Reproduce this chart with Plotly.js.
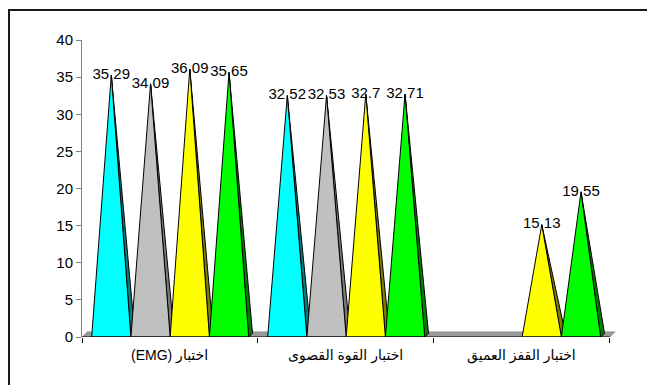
<!DOCTYPE html>
<html>
<head>
<meta charset="utf-8">
<script src="https://cdn.plot.ly/plotly-3.0.1.min.js"></script>
<style>
  html, body { margin: 0; padding: 0; background: #fff; overflow: hidden; }
  #chart { position: absolute; left: 0; top: 0; width: 647px; height: 385px; }
  #frame { position: absolute; left: 8px; top: 9px; width: 700px; height: 500px; border: 2px solid #1a1a1a; pointer-events: none; }
</style>
</head>
<body>
<div id="chart"></div>
<div id="frame"></div>
<script>
// ---- data ----
const categories = ['\u202Bاختبار (EMG)\u202C', 'اختبار القوة القصوى', 'اختبار القفز العميق'];
const seriesCyan   = [35.29, 32.52, null];
const seriesGray   = [34.09, 32.53, null];
const seriesYellow = [36.09, 32.7, 15.13];
const seriesGreen  = [35.65, 32.71, 19.55];
const labelsCyan   = ['35.29', '32.52', ''];
const labelsGray   = ['34.09', '32.53', ''];
const labelsYellow = ['36.09', '32.7', '15.13'];
const labelsGreen  = ['35.65', '32.71', '19.55'];
const yTicks = [0, 5, 10, 15, 20, 25, 30, 35, 40];

// ---- styling ----
const seriesList = [seriesCyan, seriesGray, seriesYellow, seriesGreen];
const labelList = [labelsCyan, labelsGray, labelsYellow, labelsGreen];
const frontColors = ['#00FFFF', '#C0C0C0', '#FFFF00', '#00FF00'];
const sideColors  = ['#008080', '#7a7a7a', '#808000', '#008000'];
const gapLeft = 0.055, slot = 0.223;   // fraction of a category
const depthX = 0.022, depthY = 0.5;    // 3D side face depth
const floorDX = 0.03, floorDY = 0.7;
const FONT = 'Arial, "Liberation Sans", "DejaVu Sans", sans-serif';

const traces = [];
const n = categories.length;

// floor
traces.push({
  x: [0, n, n + floorDX, floorDX, 0], y: [0, 0, floorDY, floorDY, 0],
  mode: 'lines', fill: 'toself', fillcolor: '#999999',
  line: { color: '#808080', width: 0.5 }, hoverinfo: 'skip', showlegend: false
});

const lx = [], ly = [], lt = [];
for (let i = 0; i < n; i++) {
  seriesList.forEach((s, j) => {
    const v = s[i];
    if (v === null || v === undefined) return;
    const left = i + gapLeft + j * slot;
    const right = left + slot;
    const mid = (left + right) / 2;
    // side face
    traces.push({
      x: [mid, right, right + depthX, mid], y: [v, 0, depthY, v],
      mode: 'lines', fill: 'toself', fillcolor: sideColors[j],
      line: { color: '#000', width: 1 }, hoverinfo: 'skip', showlegend: false
    });
    // front face
    traces.push({
      x: [left, right, mid, left], y: [0, 0, v, 0],
      mode: 'lines', fill: 'toself', fillcolor: frontColors[j],
      line: { color: '#000', width: 1 }, hoverinfo: 'skip', showlegend: false
    });
    lx.push(mid); ly.push(v); lt.push(labelList[j][i]);
  });
}

traces.push({
  x: lx, y: ly, text: lt, mode: 'text', textposition: 'middle center',
  textfont: { family: FONT, size: 15, color: '#000' },
  cliponaxis: false, hoverinfo: 'skip', showlegend: false
});

const boundaries = [];
for (let i = 0; i <= n; i++) boundaries.push(i);

const annotations = categories.map((c, i) => ({
  x: i + 0.5, xref: 'x', y: 0, yref: 'paper', yshift: -18,
  text: c, showarrow: false, xanchor: 'center', yanchor: 'middle',
  font: { family: FONT, size: 14, color: '#000' }
}));

const layout = {
  width: 647, height: 385,
  margin: { l: 82, r: 30, t: 40, b: 48 },
  paper_bgcolor: 'rgba(0,0,0,0)', plot_bgcolor: 'rgba(0,0,0,0)',
  showlegend: false,
  xaxis: {
    range: [0, n + 0.04], tickvals: boundaries, ticks: 'outside', ticklen: 5,
    tickcolor: '#000', tickwidth: 1, showticklabels: false, showline: false,
    showgrid: false, zeroline: false, fixedrange: true
  },
  yaxis: {
    range: [0, 40], tickvals: yTicks, ticks: 'outside', ticklen: 5,
    tickcolor: '#808080', tickwidth: 1, showline: true, linecolor: '#808080', linewidth: 1,
    showgrid: false, zeroline: false, fixedrange: true,
    tickfont: { family: FONT, size: 15, color: '#000' }
  },
  shapes: [{
    type: 'line', xref: 'x', yref: 'y', x0: 0, x1: n, y0: 0, y1: 0,
    line: { color: '#000', width: 1 }, layer: 'above'
  }],
  annotations: annotations
};

Plotly.newPlot('chart', traces, layout, { staticPlot: true, displayModeBar: false });
</script>
</body>
</html>
